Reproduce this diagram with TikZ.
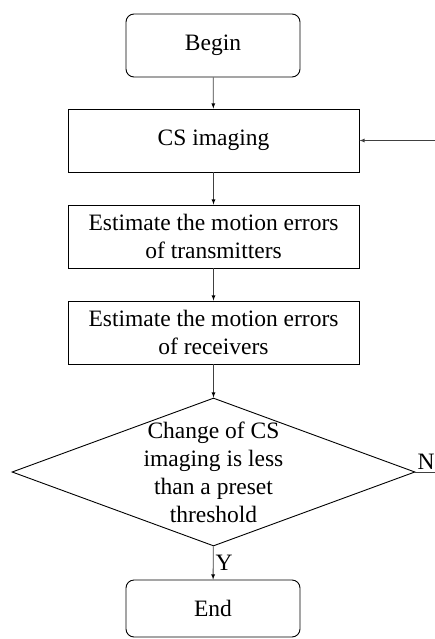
\documentclass[tikz,border=0pt]{standalone}
\usepackage{fontspec}
\setmainfont{Liberation Serif}
\usetikzlibrary{shapes.geometric,arrows}

\tikzset{
	terminal/.style={draw,rounded corners=8pt,minimum width=174pt,minimum height=63pt,line width=0.9pt},
	process/.style={draw,minimum width=291pt,minimum height=63pt,line width=0.9pt,align=center},
	decision/.style={draw,diamond,minimum width=403pt,minimum height=148pt,inner sep=0pt,line width=0.9pt},
	flow/.style={-latex,line width=0.8pt,draw=black!75}
}

\begin{document}
\begin{tikzpicture}[x=1pt,y=1pt,font=\fontsize{23.5}{28}\selectfont]
	\useasboundingbox (0,0) rectangle (435,-639);
	\node[terminal] at (213,-45.5)   (begin) {Begin};
	\node[process] at (213.5,-140.5) (cs) {CS imaging};
	\node[process] at (213.5,-236.5) (esttx) {Estimate the motion errors\\of transmitters};
	\node[process] at (213.5,-332.5) (estrx) {Estimate the motion errors\\of receivers};
	\node[decision,label={[align=center]center:Change of CS\\imaging is less\\than a preset\\threshold}] at (213.5,-472) (dec) {};
	\node[terminal,minimum height=57pt] at (213,-608.5) (end) {End};
	\coordinate (nout) at (435,-472);
	\coordinate (csin) at (435,-140.5);

	\path[flow] (begin) edge (cs)
			(cs) edge (esttx)
			(esttx) edge (estrx)
			(estrx) edge (dec)
			(dec) edge node[right,pos=0.5,inner sep=2pt] {Y} (end);
	\draw[line width=0.8pt,draw=black!75] (dec.east) -- (nout);
	\draw[flow] (csin) -- (cs.east);
	\node[anchor=south,inner sep=1pt] at (426,-471) (nlabel) {N};
\end{tikzpicture}
\end{document}
